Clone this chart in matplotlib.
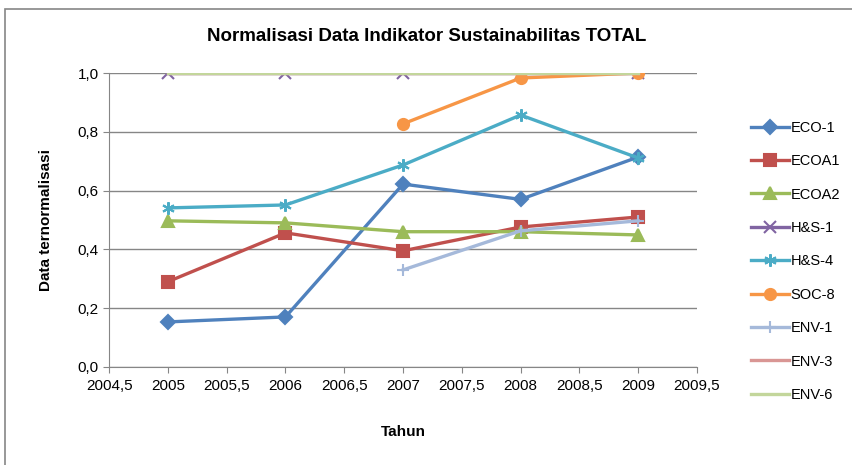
import matplotlib
matplotlib.use('Agg')
import matplotlib.pyplot as plt
from matplotlib.patches import Rectangle
from matplotlib.ticker import FuncFormatter
import numpy as np

plt.rcParams['font.family'] = ['Liberation Sans Narrow', 'Liberation Sans', 'DejaVu Sans']

years = [2005, 2006, 2007, 2008, 2009]
nan = np.nan
eco_1 = [0.153, 0.170, 0.622, 0.570, 0.714]
ecoa1 = [0.290, 0.456, 0.395, 0.476, 0.510]
ecoa2 = [0.497, 0.490, 0.460, 0.460, 0.449]
hs_1 = [1.0, 1.0, 1.0, 1.0, 1.0]
hs_4 = [0.541, 0.551, 0.687, 0.857, 0.711]
soc_8 = [nan, nan, 0.827, 0.983, 1.0]
env_1 = [nan, nan, 0.330, 0.463, 0.497]
env_3 = [1.0, 1.0, 1.0, 1.0, 1.0]
env_6 = [1.0, 1.0, 1.0, 1.0, 1.0]

series = [
    ('ECO-1', eco_1, '#4F81BD', 'D', 7),
    ('ECOA1', ecoa1, '#C0504D', 's', 8),
    ('ECOA2', ecoa2, '#9BBB59', '^', 8),
    ('H&S-1', hs_1, '#8064A2', 'x', 8),
    ('H&S-4', hs_4, '#4BACC6', (6, 2, 0), 9),
    ('SOC-8', soc_8, '#F79646', 'o', 8),
    ('ENV-1', env_1, '#A5B9DA', '+', 9),
    ('ENV-3', env_3, '#D99694', None, 0),
    ('ENV-6', env_6, '#C3D69B', None, 0),
]

fig = plt.figure(figsize=(8.53, 4.65), dpi=100)
ax = fig.add_axes([0.128, 0.211, 0.689, 0.632])

for name, vals, color, marker, ms in series:
    ax.plot(years, vals, color=color, lw=2.4, marker=marker, ms=ms,
            mew=1.5, mec=color, mfc=color, label=name)

ax.set_xlim(2004.5, 2009.5)
ax.set_ylim(0, 1.0)
ax.set_xticks(np.arange(2004.5, 2009.51, 0.5))
ax.set_yticks(np.arange(0, 1.01, 0.2))
ax.xaxis.set_major_formatter(FuncFormatter(
    lambda v, p: ('%d' % v) if v == int(v) else ('%.1f' % v).replace('.', ',')))
ax.yaxis.set_major_formatter(FuncFormatter(lambda v, p: ('%.1f' % v).replace('.', ',')))
ax.tick_params(labelsize=11, color='#868686', length=4)
ax.tick_params(axis='x', pad=5)
ax.grid(axis='y', color='#868686', lw=1)
ax.set_axisbelow(True)
for side in ['top', 'right']:
    ax.spines[side].set_visible(False)
for side in ['left', 'bottom']:
    ax.spines[side].set_color('#868686')

ax.set_xlabel('Tahun', fontsize=11, fontweight='bold', labelpad=23)
ax.set_ylabel('Data ternormalisasi', fontsize=11, fontweight='bold', labelpad=18)
fig.text(0.5, 0.922, 'Normalisasi Data Indikator Sustainabilitas TOTAL',
         ha='center', va='center', fontsize=13.5, fontweight='bold')

ax.legend(loc='center left', bbox_to_anchor=(0.880, 0.438), bbox_transform=fig.transFigure,
          frameon=False, fontsize=10.5, handlelength=2.6, labelspacing=1.33,
          handletextpad=0.15, borderpad=0, borderaxespad=0)

fig.patches.append(Rectangle((0.006, -0.01), 0.995, 0.99, transform=fig.transFigure,
                             fill=False, ec='#868686', lw=1.2))

fig.savefig('out.png', dpi=100)
